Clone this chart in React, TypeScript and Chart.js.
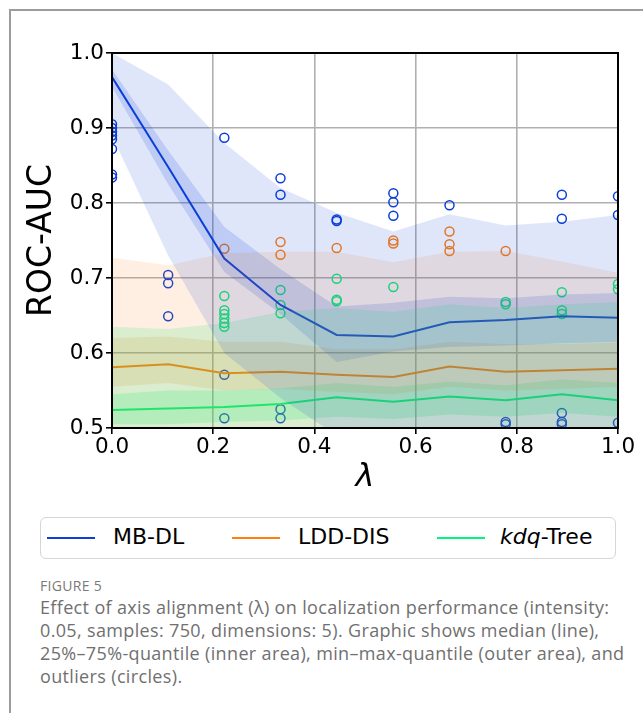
import React, { useEffect, useRef } from 'react';
import { Chart, registerables } from 'chart.js';

Chart.register(...registerables);

// ---- data ----
const lambdas = [0, 0.111, 0.222, 0.333, 0.444, 0.556, 0.667, 0.778, 0.889, 1.0];
const xTicks = [0, 0.2, 0.4, 0.6, 0.8, 1.0];
const yTicks = [0.5, 0.6, 0.7, 0.8, 0.9, 1.0];

const mbMedian = [0.968, 0.848, 0.726, 0.664, 0.624, 0.622, 0.641, 0.644, 0.649, 0.647];
const mbInnerHi = [0.978, 0.87, 0.768, 0.712, 0.662, 0.667, 0.675, 0.673, 0.678, 0.68];
const mbInnerLo = [0.955, 0.825, 0.708, 0.652, 0.588, 0.602, 0.608, 0.61, 0.613, 0.615];
const mbOuterHi = [1.0, 0.958, 0.88, 0.82, 0.787, 0.762, 0.785, 0.77, 0.775, 0.784];
const mbOuterLo = [0.89, 0.73, 0.6, 0.54, 0.49, 0.47, 0.47, 0.47, 0.47, 0.47];
const mbOutX = [0, 0, 0, 0, 0, 0, 0, 0, 0.111, 0.111, 0.111, 0.222, 0.222, 0.222, 0.333, 0.333, 0.333, 0.333, 0.444, 0.444, 0.556, 0.556, 0.556, 0.667, 0.778, 0.778, 0.889, 0.889, 0.889, 0.889, 0.889, 1.0, 1.0, 1.0];
const mbOutY = [0.905, 0.9, 0.895, 0.89, 0.885, 0.872, 0.838, 0.834, 0.704, 0.693, 0.649, 0.887, 0.571, 0.513, 0.833, 0.811, 0.525, 0.513, 0.778, 0.776, 0.813, 0.801, 0.783, 0.797, 0.508, 0.505, 0.811, 0.779, 0.52, 0.508, 0.505, 0.809, 0.784, 0.507];

const lddMedian = [0.581, 0.585, 0.573, 0.575, 0.571, 0.568, 0.582, 0.575, 0.577, 0.579];
const lddInnerHi = [0.62, 0.622, 0.615, 0.615, 0.605, 0.605, 0.615, 0.612, 0.612, 0.614];
const lddInnerLo = [0.555, 0.56, 0.55, 0.552, 0.548, 0.545, 0.555, 0.55, 0.552, 0.555];
const lddOuterHi = [0.727, 0.717, 0.733, 0.735, 0.735, 0.721, 0.735, 0.736, 0.722, 0.707];
const lddOuterLo = [0.49, 0.49, 0.49, 0.49, 0.49, 0.49, 0.49, 0.49, 0.49, 0.49];
const lddOutX = [0.222, 0.333, 0.333, 0.444, 0.556, 0.556, 0.667, 0.667, 0.667, 0.778];
const lddOutY = [0.739, 0.748, 0.731, 0.74, 0.75, 0.746, 0.762, 0.745, 0.736, 0.736];

const kdqMedian = [0.524, 0.526, 0.528, 0.532, 0.541, 0.535, 0.542, 0.537, 0.545, 0.537];
const kdqInnerHi = [0.545, 0.55, 0.55, 0.553, 0.56, 0.555, 0.562, 0.557, 0.565, 0.56];
const kdqInnerLo = [0.505, 0.505, 0.508, 0.51, 0.515, 0.512, 0.518, 0.515, 0.52, 0.515];
const kdqOuterHi = [0.635, 0.632, 0.64, 0.655, 0.66, 0.655, 0.665, 0.66, 0.665, 0.668];
const kdqOuterLo = [0.48, 0.48, 0.48, 0.48, 0.48, 0.48, 0.48, 0.48, 0.48, 0.48];
const kdqOutX = [0.222, 0.222, 0.222, 0.222, 0.222, 0.222, 0.333, 0.333, 0.333, 0.444, 0.444, 0.444, 0.556, 0.778, 0.778, 0.889, 0.889, 0.889, 1.0, 1.0];
const kdqOutY = [0.676, 0.657, 0.652, 0.646, 0.64, 0.635, 0.684, 0.664, 0.653, 0.699, 0.671, 0.669, 0.688, 0.668, 0.665, 0.681, 0.657, 0.652, 0.692, 0.685];

const seriesNames = ['MB-DL', 'LDD-DIS', 'kdq-Tree'];
const captionLines = [
  'Effect of axis alignment (λ) on localization performance (intensity:',
  '0.05, samples: 750, dimensions: 5). Graphic shows median (line),',
  '25%–75%-quantile (inner area), min–max-quantile (outer area), and',
  'outliers (circles).',
];
const BLUE = '#0a3fd8';
const ORANGE = '#ff7f0e';
const GREEN = '#00f57a';

function pts(ys: number[]) {
  return ys.map((y, i) => ({ x: lambdas[i], y }));
}
function outPts(xs: number[], ys: number[]) {
  return xs.map((x, i) => ({ x, y: ys[i] }));
}
function rgba(hex: string, a: number) {
  const n = parseInt(hex.slice(1), 16);
  return `rgba(${(n >> 16) & 255},${(n >> 8) & 255},${n & 255},${a})`;
}

const framePlugin = {
  id: 'frame',
  afterDatasetsDraw(chart: any) {
    const { ctx, chartArea } = chart;
    const { left, top, right, bottom } = chartArea;
    ctx.save();
    ctx.strokeStyle = '#000';
    ctx.lineWidth = 2;
    ctx.strokeRect(left, top, right - left, bottom - top);
    ctx.restore();
  },
};

export default function App() {
  const ref = useRef<HTMLCanvasElement>(null);

  useEffect(() => {
    if (!ref.current) return;
    const datasets: any[] = [];
    const bandSets: [number[], number[], string, number][] = [
      [mbOuterHi, mbOuterLo, BLUE, 0.13],
      [lddOuterHi, lddOuterLo, ORANGE, 0.12],
      [kdqOuterHi, kdqOuterLo, GREEN, 0.17],
      [mbInnerHi, mbInnerLo, BLUE, 0.16],
      [lddInnerHi, lddInnerLo, ORANGE, 0.15],
      [kdqInnerHi, kdqInnerLo, GREEN, 0.2],
    ];
    bandSets.forEach(([hi, lo, color, a]) => {
      const loIdx = datasets.length;
      datasets.push({
        data: pts(lo),
        borderWidth: 0,
        pointRadius: 0,
        fill: false,
        clip: 0,
      });
      datasets.push({
        data: pts(hi),
        borderWidth: 0,
        pointRadius: 0,
        fill: { target: loIdx },
        backgroundColor: rgba(color, a),
        clip: 0,
      });
    });
    const medians: [number[], string][] = [
      [mbMedian, BLUE],
      [lddMedian, ORANGE],
      [kdqMedian, GREEN],
    ];
    medians.forEach(([m, c], i) => {
      datasets.push({
        label: seriesNames[i],
        data: pts(m),
        borderColor: c,
        borderWidth: 2,
        pointRadius: 0,
        fill: false,
        tension: 0,
        clip: 0,
      });
    });
    const outs: [number[], number[], string][] = [
      [mbOutX, mbOutY, BLUE],
      [lddOutX, lddOutY, ORANGE],
      [kdqOutX, kdqOutY, GREEN],
    ];
    outs.forEach(([xs, ys, c]) => {
      datasets.push({
        data: outPts(xs, ys),
        showLine: false,
        borderColor: c,
        backgroundColor: 'rgba(0,0,0,0)',
        borderWidth: 1.5,
        pointRadius: 4.5,
        pointStyle: 'circle',
        fill: false,
        clip: 0,
      });
    });

    const tickFont = { family: 'DejaVu Sans', size: 21.5 };
    const chart = new Chart(ref.current, {
      type: 'line',
      data: { datasets },
      plugins: [framePlugin],
      options: {
        animation: false,
        responsive: false,
        devicePixelRatio: 1,
        layout: { padding: { left: 0, right: 25, top: 43, bottom: 0 } },
        plugins: {
          legend: { display: false },
          tooltip: { enabled: false },
        },
        scales: {
          x: {
            type: 'linear',
            min: 0,
            max: 1,
            afterBuildTicks: (scale: any) => {
              scale.ticks = xTicks.map((v) => ({ value: v }));
            },
            afterFit: (scale: any) => {
              scale.height = 72;
            },
            ticks: {
              callback: (v: any) => Number(v).toFixed(1),
              font: tickFont,
              color: '#000',
              padding: 1,
              maxRotation: 0,
            },
            grid: {
              color: '#b0b0b0',
              lineWidth: 1.6,
              tickColor: '#000',
              tickLength: 6,
              tickWidth: 1.6,
            },
            border: { display: false },
            title: {
              display: true,
              text: 'λ',
              color: '#000',
              font: { family: 'DejaVu Sans', size: 32, style: 'italic', lineHeight: 1 },
              padding: { top: 0, bottom: 6 },
            },
          },
          y: {
            type: 'linear',
            min: 0.5,
            max: 1.0,
            afterBuildTicks: (scale: any) => {
              scale.ticks = yTicks.map((v) => ({ value: v }));
            },
            afterFit: (scale: any) => {
              scale.width = 102;
            },
            ticks: {
              callback: (v: any) => Number(v).toFixed(1),
              font: tickFont,
              color: '#000',
              padding: 2,
            },
            grid: {
              color: '#b0b0b0',
              lineWidth: 1.6,
              tickColor: '#000',
              tickLength: 6,
              tickWidth: 1.6,
            },
            border: { display: false },
            title: {
              display: true,
              text: 'ROC-AUC',
              color: '#000',
              font: { family: 'DejaVu Sans', size: 33, lineHeight: 1 },
              padding: { top: 16, bottom: 0 },
            },
          },
        },
      },
    } as any);
    return () => chart.destroy();
  }, []);

  const legendItems: [string, React.ReactNode, number, number][] = [
    [BLUE, 'MB-DL', 47, 113],
    [ORANGE, 'LDD-DIS', 232, 298],
    [GREEN, <><i>kdq</i>-Tree</>, 437, 500],
  ];

  return (
    <div style={{ position: 'fixed', left: 0, top: 0, width: 643, height: 713, overflow: 'hidden', background: '#fff' }}>
      <div
        style={{
          position: 'absolute',
          left: 9,
          top: 9,
          width: 700,
          height: 800,
          borderLeft: '2px solid #9c9c9c',
          borderTop: '2px solid #9c9c9c',
        }}
      />
      <canvas ref={ref} width={633} height={490} style={{ position: 'absolute', left: 10, top: 10, width: 633, height: 490 }} />
      <div
        style={{
          position: 'absolute',
          left: 40,
          top: 517,
          width: 576,
          height: 42,
          boxSizing: 'border-box',
          border: '1px solid #d6d6d6',
          borderRadius: 6,
        }}
      />
      {legendItems.map(([c, label, lx, tx], i) => (
        <React.Fragment key={i}>
          <div style={{ position: 'absolute', left: lx, top: 537, width: 48, height: 2, background: c }} />
          <div
            style={{
              position: 'absolute',
              left: tx,
              top: 523,
              fontFamily: 'DejaVu Sans',
              fontSize: 22,
              lineHeight: '28px',
              color: '#000',
              whiteSpace: 'nowrap',
            }}
          >
            {label}
          </div>
        </React.Fragment>
      ))}
      <div
        style={{
          position: 'absolute',
          left: 40,
          top: 577,
          fontFamily: 'Open Sans',
          fontSize: 14,
          lineHeight: '18px',
          color: '#7a7a7a',
          letterSpacing: 0.3,
        }}
      >
        FIGURE 5
      </div>
      <div
        style={{
          position: 'absolute',
          left: 40,
          top: 596,
          fontFamily: 'Open Sans',
          fontSize: 18,
          lineHeight: '23px',
          letterSpacing: 0.35,
          color: '#707070',
          whiteSpace: 'nowrap',
        }}
      >
        {captionLines.map((l, i) => (
          <div key={i}>{l}</div>
        ))}
      </div>
    </div>
  );
}
